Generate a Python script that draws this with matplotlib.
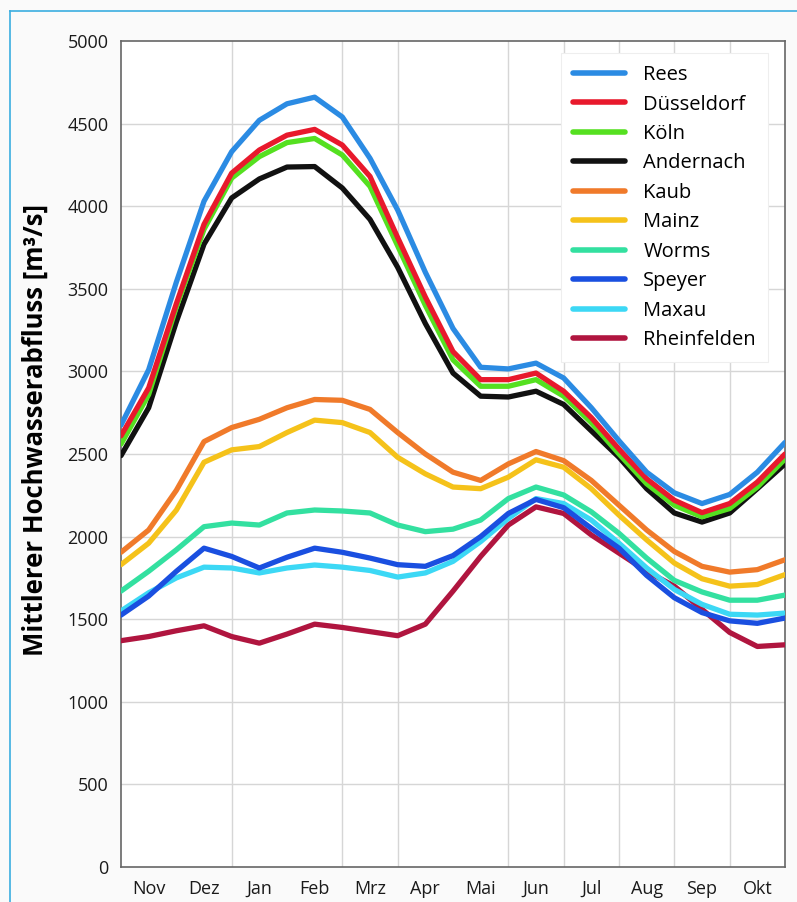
import numpy as np
import matplotlib
matplotlib.use("Agg")
import matplotlib.pyplot as plt
from matplotlib.lines import Line2D

plt.rcParams['font.family'] = ['Open Sans', 'DejaVu Sans']

zeit = np.arange(0, 12.5, 0.5)
monate = ["Nov", "Dez", "Jan", "Feb", "Mrz", "Apr", "Mai", "Jun", "Jul", "Aug", "Sep", "Okt"]

rees = [2675, 3010, 3540, 4030, 4330, 4520, 4620, 4660, 4540, 4290, 3977, 3600, 3260,
        3025, 3015, 3050, 2960, 2780, 2580, 2390, 2265, 2200, 2255, 2390, 2570]
duesseldorf = [2610, 2900, 3410, 3890, 4200, 4340, 4430, 4465, 4370, 4180, 3810, 3450, 3120,
               2950, 2950, 2990, 2880, 2720, 2530, 2350, 2220, 2145, 2200, 2330, 2500]
koeln = [2560, 2860, 3390, 3860, 4170, 4300, 4385, 4410, 4310, 4120, 3760, 3400, 3070,
         2910, 2910, 2950, 2850, 2690, 2500, 2320, 2190, 2120, 2170, 2300, 2470]
andernach = [2490, 2780, 3300, 3770, 4050, 4165, 4237, 4240, 4110, 3920, 3630, 3290, 2990,
             2850, 2845, 2880, 2800, 2640, 2480, 2290, 2143, 2088, 2143, 2290, 2440]
kaub = [1905, 2040, 2280, 2575, 2660, 2710, 2780, 2830, 2825, 2770, 2630, 2500, 2390,
        2340, 2440, 2515, 2460, 2340, 2190, 2040, 1910, 1820, 1785, 1800, 1860]
mainz = [1830, 1960, 2160, 2450, 2525, 2545, 2630, 2705, 2690, 2630, 2480, 2380, 2300,
         2290, 2360, 2465, 2420, 2290, 2130, 1980, 1840, 1745, 1700, 1710, 1770]
worms = [1670, 1790, 1920, 2060, 2082, 2070, 2143, 2161, 2155, 2143, 2070, 2030, 2045,
         2100, 2230, 2300, 2252, 2150, 2020, 1870, 1735, 1665, 1615, 1615, 1646]
speyer = [1525, 1640, 1790, 1930, 1880, 1810, 1875, 1930, 1905, 1870, 1830, 1820, 1885,
          2000, 2140, 2225, 2175, 2050, 1930, 1765, 1630, 1540, 1490, 1475, 1507]
maxau = [1550, 1660, 1750, 1815, 1810, 1780, 1810, 1828, 1815, 1795, 1755, 1780, 1850,
         1970, 2110, 2230, 2200, 2100, 1960, 1810, 1680, 1590, 1530, 1525, 1537]
rheinfelden = [1370, 1395, 1430, 1460, 1395, 1355, 1410, 1470, 1450, 1425, 1400, 1470, 1670,
               1880, 2070, 2180, 2140, 2010, 1900, 1790, 1700, 1560, 1420, 1335, 1345]

pegel = ["Rees", "Düsseldorf", "Köln", "Andernach", "Kaub", "Mainz", "Worms",
         "Speyer", "Maxau", "Rheinfelden"]
reihen = [rees, duesseldorf, koeln, andernach, kaub, mainz, worms, speyer, maxau, rheinfelden]
farben = ["#2b8be3", "#e8192c", "#55e020", "#111111", "#f07a2a", "#f5c21a", "#33e0a0",
          "#1a4fe0", "#3cd8f5", "#b0153f"]

fig = plt.figure(figsize=(7.97, 9.02), dpi=100, facecolor="#fafafa")
ax = fig.add_axes([121/797, 35/902, 664/797, 826/902])
ax.set_facecolor("white")

# Gitter (nicht an jeder Monatsgrenze)
for g in [2, 4, 5, 7, 8, 9, 10, 11]:
    ax.axvline(g, color="#d6d6d6", lw=1.0, zorder=0)
for h in range(500, 5000, 500):
    ax.axhline(h, color="#d6d6d6", lw=1.0, zorder=0)

for i in range(len(reihen) - 1, -1, -1):
    ax.plot(zeit, reihen[i], color=farben[i], lw=3.8, label=pegel[i],
            solid_capstyle="round", solid_joinstyle="round", zorder=3 + (len(reihen) - i))

ax.set_xlim(0, 12)
ax.set_ylim(0, 5000)
ax.set_yticks(range(0, 5001, 500))
ax.set_xticks(np.arange(0.5, 12, 1))
ax.set_xticklabels(monate)
ax.tick_params(length=0, labelsize=13, colors="#1a1a1a")
ax.tick_params(axis="y", pad=9)
ax.tick_params(axis="x", pad=9)
for s in ax.spines.values():
    s.set_color("#666666")
    s.set_linewidth(1.2)

ax.set_ylabel("Mittlerer Hochwasserabfluss [m³/s]", fontsize=18.5, fontweight="bold")
ax.yaxis.set_label_coords(-0.109, 0.529)

handles, labels = ax.get_legend_handles_labels()
handles = handles[::-1]
labels = labels[::-1]
leg = ax.legend(handles, labels, loc="upper right", bbox_to_anchor=(0.9744, 0.9855),
                borderaxespad=0, fontsize=14.5, frameon=True, fancybox=False,
                handlelength=2.6, handletextpad=0.9, labelspacing=0.47, borderpad=0.6)
leg.get_frame().set_edgecolor("#eeeeee")
leg.get_frame().set_linewidth(0.8)
leg.get_frame().set_facecolor("white")
leg.get_frame().set_alpha(1)
for l in leg.get_lines():
    l.set_linewidth(4)

# hellblauer Rahmen
fig.add_artist(Line2D([10/797, 1.0], [1 - 11/902, 1 - 11/902], color="#3aaee0", lw=1.2))
fig.add_artist(Line2D([10/797, 10/797], [0, 1 - 11/902], color="#3aaee0", lw=1.2))

fig.savefig("out.png", dpi=100, facecolor=fig.get_facecolor())
